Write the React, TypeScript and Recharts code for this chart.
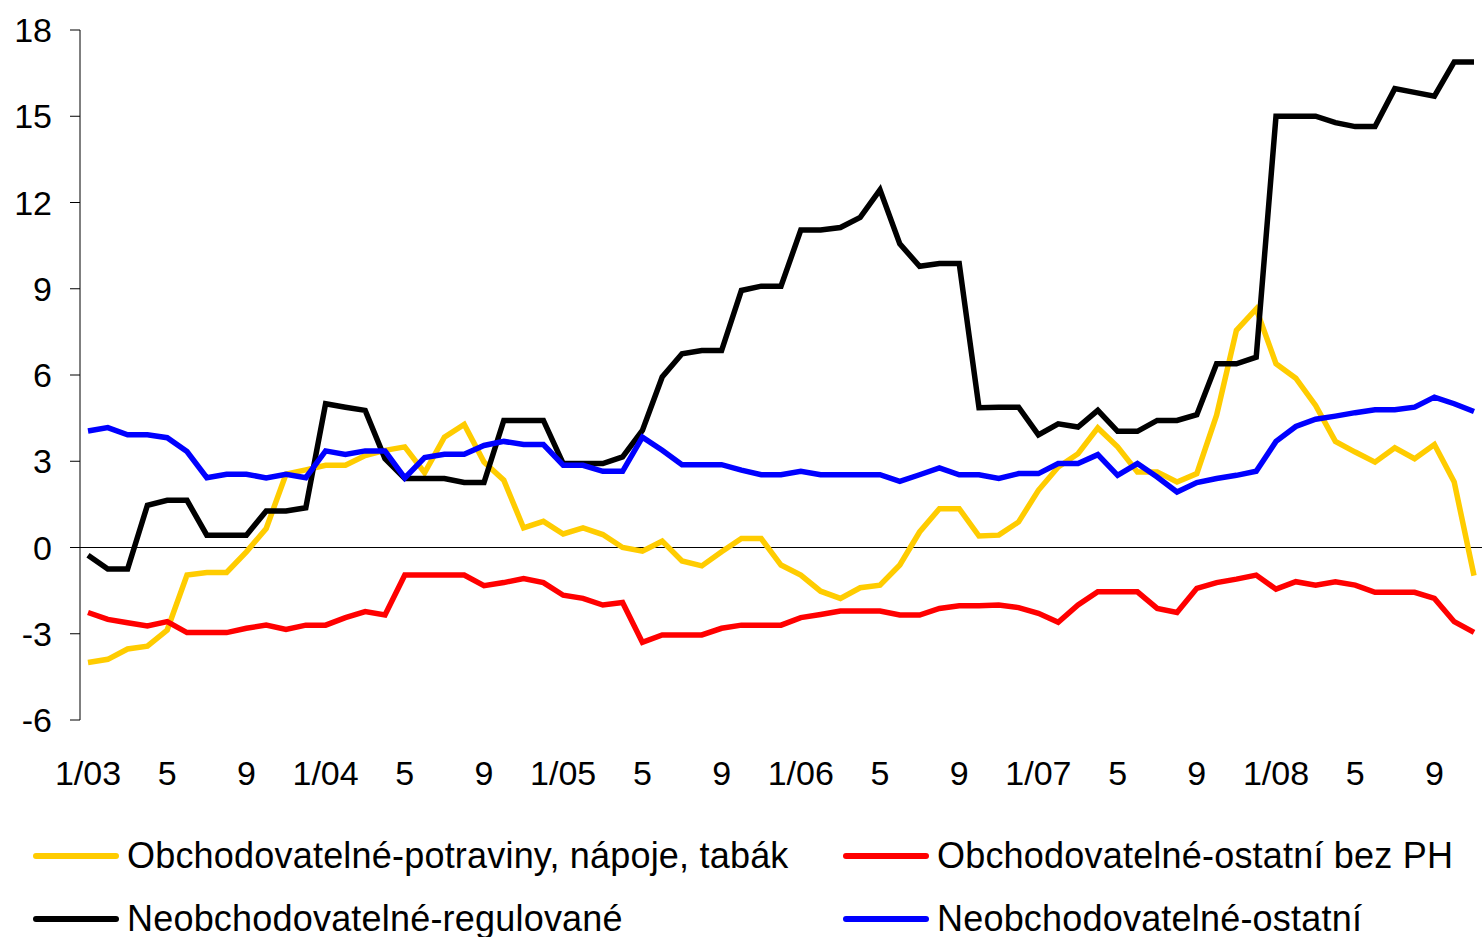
import { LineChart, Line, XAxis, YAxis, ReferenceLine } from 'recharts';

const months = [
  '1/03', '2', '3', '4', '5', '6', '7', '8', '9', '10', '11', '12',
  '1/04', '2', '3', '4', '5', '6', '7', '8', '9', '10', '11', '12',
  '1/05', '2', '3', '4', '5', '6', '7', '8', '9', '10', '11', '12',
  '1/06', '2', '3', '4', '5', '6', '7', '8', '9', '10', '11', '12',
  '1/07', '2', '3', '4', '5', '6', '7', '8', '9', '10', '11', '12',
  '1/08', '2', '3', '4', '5', '6', '7', '8', '9', '10', '11',
];

// Obchodovatelné-potraviny, nápoje, tabák
const potraviny = [
  -4.0, -3.89, -3.53, -3.43, -2.87, -0.96, -0.87, -0.87, -0.15, 0.66, 2.55, 2.7,
  2.86, 2.86, 3.2, 3.38, 3.5, 2.6, 3.84, 4.28, 2.97, 2.34, 0.68, 0.91,
  0.47, 0.68, 0.45, 0.0, -0.13, 0.22, -0.47, -0.64, -0.15, 0.31, 0.31, -0.61,
  -0.96, -1.52, -1.77, -1.4, -1.31, -0.61, 0.54, 1.35, 1.35, 0.4, 0.43, 0.89,
  1.99, 2.8, 3.26, 4.16, 3.5, 2.63, 2.63, 2.28, 2.57, 4.6, 7.55, 8.3,
  6.39, 5.89, 4.94, 3.69, 3.32, 2.97, 3.47, 3.09, 3.58, 2.28, -0.98,
];

// Obchodovatelné-ostatní bez PH
const ostatniBezPH = [
  -2.26, -2.5, -2.62, -2.73, -2.58, -2.96, -2.96, -2.96, -2.81, -2.7, -2.85, -2.7,
  -2.7, -2.44, -2.23, -2.35, -0.96, -0.96, -0.96, -0.96, -1.33, -1.22, -1.08, -1.22,
  -1.66, -1.77, -2.0, -1.91, -3.3, -3.04, -3.04, -3.04, -2.81, -2.7, -2.7, -2.7,
  -2.44, -2.33, -2.21, -2.21, -2.21, -2.35, -2.35, -2.12, -2.03, -2.03, -2.0, -2.09,
  -2.29, -2.6, -2.0, -1.54, -1.54, -1.54, -2.12, -2.26, -1.42, -1.22, -1.1, -0.96,
  -1.45, -1.19, -1.31, -1.19, -1.31, -1.56, -1.56, -1.56, -1.77, -2.58, -2.95,
];

// Neobchodovatelné-regulované
const regulovane = [
  -0.27, -0.75, -0.75, 1.47, 1.64, 1.64, 0.43, 0.43, 0.43, 1.27, 1.27, 1.38,
  5.0, 4.88, 4.77, 3.09, 2.4, 2.4, 2.4, 2.26, 2.26, 4.42, 4.42, 4.42,
  2.92, 2.92, 2.92, 3.15, 4.07, 5.93, 6.74, 6.85, 6.85, 8.94, 9.09, 9.09,
  11.04, 11.04, 11.13, 11.48, 12.44, 10.56, 9.78, 9.88, 9.88, 4.86, 4.88, 4.88,
  3.92, 4.3, 4.19, 4.77, 4.04, 4.04, 4.42, 4.42, 4.62, 6.39, 6.39, 6.62,
  15.0, 15.0, 15.0, 14.78, 14.64, 14.64, 15.96, 15.83, 15.7, 16.89, 16.89,
];

// Neobchodovatelné-ostatní
const neobOstatni = [
  4.05, 4.17, 3.92, 3.92, 3.82, 3.34, 2.43, 2.55, 2.55, 2.42, 2.55, 2.43,
  3.36, 3.24, 3.36, 3.36, 2.42, 3.13, 3.24, 3.24, 3.55, 3.69, 3.58, 3.58,
  2.86, 2.86, 2.65, 2.65, 3.84, 3.38, 2.88, 2.88, 2.88, 2.69, 2.53, 2.53,
  2.65, 2.53, 2.53, 2.53, 2.53, 2.3, 2.53, 2.77, 2.53, 2.53, 2.4, 2.57,
  2.57, 2.92, 2.92, 3.23, 2.51, 2.92, 2.45, 1.93, 2.26, 2.4, 2.51, 2.65,
  3.69, 4.21, 4.46, 4.57, 4.69, 4.79, 4.79, 4.88, 5.23, 5.0, 4.73,
];

const yTicks = [-6, -3, 0, 3, 6, 9, 12, 15, 18];

const series = [
  { key: 'potraviny', name: 'Obchodovatelné-potraviny, nápoje, tabák', color: '#FFCC00', values: potraviny },
  { key: 'ostatniBezPH', name: 'Obchodovatelné-ostatní bez PH', color: '#FF0000', values: ostatniBezPH },
  { key: 'regulovane', name: 'Neobchodovatelné-regulované', color: '#000000', values: regulovane },
  { key: 'neobOstatni', name: 'Neobchodovatelné-ostatní', color: '#0000FF', values: neobOstatni },
];

const data = months.map((m, i) => {
  const row: Record<string, string | number> = { month: m };
  series.forEach((s) => {
    row[s.key] = s.values[i];
  });
  return row;
});

const font = '"Liberation Sans", Arial, sans-serif';

export default function App() {
  return (
    <div style={{ position: 'absolute', left: 0, top: 0, width: 1482, height: 937, background: '#fff', fontFamily: font }}>
      <LineChart width={1482} height={800} data={data} margin={{ top: 30, right: 0, bottom: 0, left: 0 }}>
        <XAxis
          dataKey="month"
          interval={3}
          height={80}
          axisLine={false}
          tickLine={false}
          tickSize={0}
          tickMargin={41}
          padding={{ left: 8, right: 8 }}
          tick={{ fontSize: 34, fill: '#000', fontFamily: font }}
        />
        <YAxis
          domain={[-6, 18]}
          ticks={yTicks}
          width={80}
          tickSize={10}
          tickMargin={18}
          axisLine={{ stroke: '#000' }}
          tickLine={{ stroke: '#000' }}
          tick={{ fontSize: 34, fill: '#000', fontFamily: font }}
        />
        <ReferenceLine y={0} stroke="#000" strokeWidth={1} />
        {series.map((s) => (
          <Line
            key={s.key}
            type="linear"
            dataKey={s.key}
            name={s.name}
            stroke={s.color}
            strokeWidth={5.5}
            dot={false}
            isAnimationActive={false}
          />
        ))}
      </LineChart>
      {series.map((s, i) => (
        <div
          key={s.key}
          style={{
            position: 'absolute',
            left: i % 2 === 0 ? 33 : 843,
            top: i < 2 ? 836 : 899,
            height: 40,
            display: 'flex',
            alignItems: 'center',
            whiteSpace: 'nowrap',
          }}
        >
          <div style={{ width: 86, height: 6, borderRadius: 3, background: s.color }} />
          <span style={{ marginLeft: 8, fontSize: 36, letterSpacing: 0.2, lineHeight: '40px', color: '#000' }}>{s.name}</span>
        </div>
      ))}
    </div>
  );
}
